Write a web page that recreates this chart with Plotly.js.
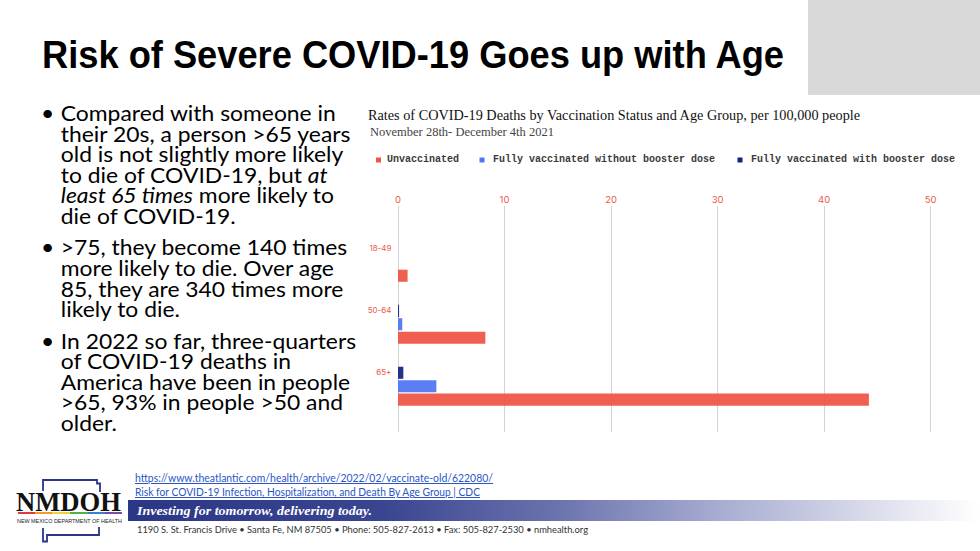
<!DOCTYPE html>
<html>
<head>
<meta charset="utf-8">
<script src="https://cdn.plot.ly/plotly-3.0.1.min.js"></script>
<style>
html,body{margin:0;padding:0;background:#fff;}
#page{position:relative;width:980px;height:551px;overflow:hidden;background:#fff;}
#chart{position:absolute;left:0;top:0;width:980px;height:551px;}
.abs{position:absolute;white-space:nowrap;transform-origin:0 0;}
#grayBox{left:808px;top:0;width:172px;height:95px;background:#d9d9d9;}
#slideTitle{left:42px;top:35px;font-family:'Liberation Sans',Arial,sans-serif;font-weight:bold;font-size:39px;line-height:39px;color:#000;}
#bullets{left:40px;top:103px;font-family:Lato,'Noto Sans',sans-serif;font-size:22px;color:#000;}
.para{position:relative;padding-left:20px;margin-bottom:10.8px;white-space:nowrap;}
.para .ln{display:block;height:20.6px;line-height:20.6px;overflow:visible;}
.para .dot{position:absolute;left:1px;top:0;line-height:20.6px;height:20.6px;}
.link{font-family:Lato,sans-serif;font-size:10.5px;line-height:12px;color:#2a56c6;text-decoration:underline;}
#banner{left:128px;top:500px;width:852px;height:21px;background:linear-gradient(to right,#2b3786 0%,#3a4590 30%,#6a72ad 50%,#a9aed2 70%,#dcdeec 88%,#ffffff 100%);}
#bannerText{left:137px;top:503px;font-family:'Liberation Serif',serif;font-weight:bold;font-style:italic;font-size:13.5px;line-height:15px;color:#fff;}
#address{left:137px;top:524px;font-family:Lato,sans-serif;font-size:9.5px;line-height:12px;color:#333;}
#logo{left:16px;top:489px;font-family:'Liberation Serif',serif;font-weight:bold;font-size:27px;line-height:27px;color:#111;}
#rainbow{left:18px;top:512px;width:104px;height:2px;background:linear-gradient(to right,#e03a3a 0%,#e03a3a 16%,#f39a2b 16%,#f39a2b 33%,#f2d23a 33%,#f2d23a 50%,#56b04a 50%,#56b04a 67%,#3a7fd0 67%,#3a7fd0 84%,#7a4aa8 84%,#7a4aa8 100%);}
#logoSub{left:17px;top:518px;font-family:'Liberation Sans',sans-serif;font-size:5.6px;line-height:6px;color:#222;}
#nmOutline{position:absolute;left:0;top:0;}
</style>
</head>
<body>
<div id="page">
  <div id="chart"></div>
  <div class="abs" id="grayBox"></div>
  <div class="abs" id="slideTitle">Risk of Severe COVID-19 Goes up with Age</div>
  <div class="abs" id="bullets">
    <div class="para"><span class="dot">•</span><span class="ln">Compared with someone in</span><span class="ln">their 20s, a person &gt;65 years</span><span class="ln">old is not slightly more likely</span><span class="ln">to die of COVID-19, but <i>at</i></span><span class="ln"><i>least 65 times</i> more likely to</span><span class="ln">die of COVID-19.</span></div>
    <div class="para"><span class="dot">•</span><span class="ln">&gt;75, they become 140 times</span><span class="ln">more likely to die. Over age</span><span class="ln">85, they are 340 times more</span><span class="ln">likely to die.</span></div>
    <div class="para"><span class="dot">•</span><span class="ln">In 2022 so far, three-quarters</span><span class="ln">of COVID-19 deaths in</span><span class="ln">America have been in people</span><span class="ln">&gt;65, 93% in people &gt;50 and</span><span class="ln">older.</span></div>
  </div>
  <div class="abs link" id="link1" style="left:135px;top:472px;">https://www.theatlantic.com/health/archive/2022/02/vaccinate-old/622080/</div>
  <div class="abs link" id="link2" style="left:135px;top:486px;">Risk for COVID-19 Infection, Hospitalization, and Death By Age Group | CDC</div>
  <div class="abs" id="banner"></div>
  <div class="abs" id="bannerText">Investing for tomorrow, delivering today.</div>
  <div class="abs" id="address">1190 S. St. Francis Drive • Santa Fe, NM 87505 • Phone: 505-827-2613 • Fax: 505-827-2530 • nmhealth.org</div>
  <svg id="nmOutline" width="140" height="551">
    <polyline points="43,491 43,480 97,480 97,483.5 100,483.5 100,492" fill="none" stroke="#2b3589" stroke-width="1.8"/>
    <polyline points="99,527 99,535 47,535 47,541.5 43,541.5 43,528" fill="none" stroke="#2b3589" stroke-width="1.8"/>
  </svg>
  <div class="abs" id="logo">NMDOH</div>
  <div class="abs" id="rainbow"></div>
  <div class="abs" id="logoSub">NEW MEXICO DEPARTMENT OF HEALTH</div>
</div>
<script>
// ---------- data ----------
const ageGroups = ['18-49', '50-64', '65+'];
const unvaccinated = [0.9, 8.2, 44.2];
const vaxNoBooster = [0, 0.4, 3.6];
const vaxBooster = [0, 0.1, 0.5];
const seriesNames = ['Unvaccinated', 'Fully vaccinated without booster dose', 'Fully vaccinated with booster dose'];
const xTickVals = [0, 10, 20, 30, 40, 50];
const chartTitle = 'Rates of COVID-19 Deaths by Vaccination Status and Age Group, per 100,000 people';
const chartSubtitle = 'November 28th- December 4th 2021';

// ---------- styling ----------
const colors = ['#ee5443', '#4f74f4', '#14227f'];
const axisRed = '#ea5a4c';

// plot area in page pixels
const PL = 398, PR = 952, PT = 206, PB = 432;
const W = 980, H = 551;
function px(x) { return (x - PL) / (PR - PL); }
function py(y) { return (PB - y) / (PB - PT); }

const seriesValues = [unvaccinated, vaxNoBooster, vaxBooster];
const traces = seriesValues.map((vals, i) => ({
  type: 'bar',
  orientation: 'h',
  name: seriesNames[i],
  y: ageGroups,
  x: vals,
  marker: { color: colors[i], opacity: 0.93, line: { width: 0 } },
  showlegend: false,
  hoverinfo: 'skip'
}));

// custom legend (squares + mono labels) positioned like the reference
const legendSquareX = [376, 479.5, 737.5];
const legendTextX = [385, 491, 749];
const legendY = 160;
const shapes = [];
const annotations = [];
seriesNames.forEach((n, i) => {
  shapes.push({
    type: 'rect', xref: 'paper', yref: 'paper',
    x0: px(legendSquareX[i]), x1: px(legendSquareX[i] + 5),
    y0: py(legendY - 2.5), y1: py(legendY + 2.5),
    fillcolor: colors[i], line: { width: 0 }
  });
  annotations.push({
    xref: 'paper', yref: 'paper', x: px(legendTextX[i]), y: py(legendY),
    xanchor: 'left', yanchor: 'middle', showarrow: false, text: n,
    font: { family: 'Liberation Mono, monospace', size: 10, color: '#3a3a3a', weight: 'bold' }
  });
});
annotations.push({
  xref: 'paper', yref: 'paper', x: px(368), y: py(132),
  xanchor: 'left', yanchor: 'middle', showarrow: false, text: chartSubtitle,
  font: { family: 'Liberation Serif, serif', size: 12.5, color: '#444' }
});

const layout = {
  width: W, height: H, autosize: false,
  margin: { l: PL, r: W - PR, t: PT, b: H - PB, pad: 0 },
  paper_bgcolor: 'rgba(0,0,0,0)', plot_bgcolor: 'rgba(0,0,0,0)',
  title: {
    text: chartTitle, xref: 'container', yref: 'container',
    x: 368 / W, xanchor: 'left', y: 1 - 115 / H, yanchor: 'middle',
    font: { family: 'Liberation Serif, serif', size: 14.25, color: '#111' }
  },
  barmode: 'group', bargap: 0.35, bargroupgap: 0.1,
  xaxis: {
    side: 'top', range: [0, 52], tickvals: xTickVals, ticktext: xTickVals.map(String),
    showgrid: true, gridcolor: '#d4d4d4', gridwidth: 1,
    zeroline: true, zerolinecolor: '#d4d4d4', zerolinewidth: 1,
    showline: false, ticks: '',
    tickfont: { family: 'Inter, sans-serif', size: 9.5, color: axisRed },
    fixedrange: true
  },
  yaxis: {
    type: 'category', categoryorder: 'array', categoryarray: ageGroups.slice().reverse(),
    range: [-0.74, 2.91],
    showgrid: false, zeroline: false, showline: false,
    ticks: 'outside', ticklen: 4, tickcolor: 'rgba(0,0,0,0)',
    ticklabelshift: -14,
    tickfont: { family: 'Inter, sans-serif', size: 8, color: axisRed },
    fixedrange: true
  },
  shapes: shapes,
  annotations: annotations,
  showlegend: false
};

Plotly.newPlot('chart', traces, layout, { staticPlot: true, displayModeBar: false });

// ---------- fit slide text widths to the reference ----------
function fitWidth(id, target) {
  const el = document.getElementById(id);
  const w = el.getBoundingClientRect().width;
  if (w > 0) el.style.transform = 'scaleX(' + (target / w) + ')';
}
function fitAll() {
  fitWidth('slideTitle', 742);
  fitWidth('link1', 358);
  fitWidth('link2', 345);
  fitWidth('bannerText', 235);
  fitWidth('address', 451);
  fitWidth('logo', 105);
  fitWidth('logoSub', 105);
  // bullets: scale by first line width (reference ≈ 275px for "Compared with someone in")
  const probe = document.createElement('span');
  probe.style.cssText = 'position:absolute;visibility:hidden;white-space:nowrap;font-family:Lato,"Noto Sans",sans-serif;font-size:22px;';
  probe.textContent = 'Compared with someone in';
  document.body.appendChild(probe);
  const w = probe.getBoundingClientRect().width;
  document.body.removeChild(probe);
  if (w > 0) document.getElementById('bullets').style.transform = 'scaleX(' + (275 / w) + ')';
}
if (document.fonts && document.fonts.ready) { document.fonts.ready.then(fitAll); } else { fitAll(); }
</script>
</body>
</html>
